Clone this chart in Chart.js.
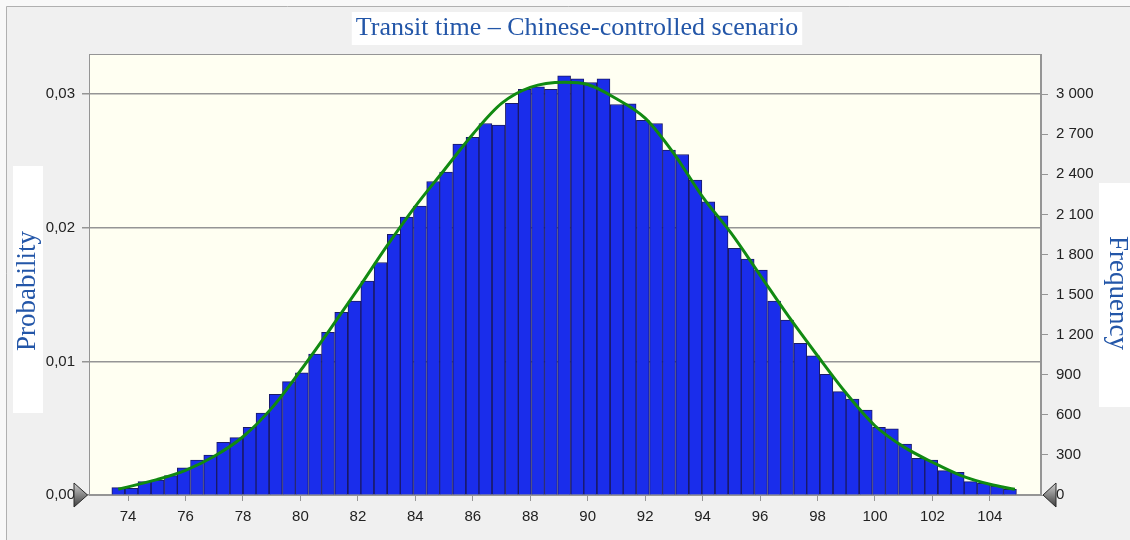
<!DOCTYPE html>
<html>
<head>
<meta charset="utf-8">
<script src="https://cdn.jsdelivr.net/npm/chart.js@4.4.1/dist/chart.umd.min.js"></script>
<style>
  html, body { margin: 0; padding: 0; background: #f8f8f8; }
  canvas { display: block; }
</style>
</head>
<body>
<canvas id="transitChart" width="1130" height="540"></canvas>
<script>
// histogram bins (bin centres, transit time) and their frequencies (100 000 iterations)
var binCenters = [
  73.66, 74.12, 74.57, 75.03, 75.49, 75.94, 76.40, 76.86, 77.31, 77.77,
  78.23, 78.68, 79.14, 79.60, 80.05, 80.51, 80.96, 81.42, 81.88, 82.33,
  82.79, 83.25, 83.70, 84.16, 84.62, 85.07, 85.53, 85.99, 86.44, 86.90,
  87.36, 87.81, 88.27, 88.72, 89.18, 89.64, 90.09, 90.55, 91.01, 91.46,
  91.92, 92.38, 92.83, 93.29, 93.75, 94.20, 94.66, 95.12, 95.57, 96.03,
  96.49, 96.94, 97.40, 97.85, 98.31, 98.77, 99.22, 99.68, 100.14, 100.59,
  101.05, 101.51, 101.96, 102.42, 102.88, 103.33, 103.79, 104.25, 104.70
];
var frequency = [
  55, 50, 100, 112, 145, 204, 262, 299, 394, 429,
  506, 613, 753, 848, 915, 1055, 1217, 1367, 1451, 1601,
  1740, 1950, 2080, 2162, 2346, 2416, 2625, 2676, 2780, 2768,
  2930, 3035, 3054, 3035, 3137, 3114, 3087, 3114, 2922, 2927,
  2803, 2780, 2581, 2548, 2356, 2194, 2089, 1845, 1765, 1683,
  1451, 1309, 1135, 1042, 903, 773, 718, 636, 506, 496,
  381, 274, 262, 182, 170, 100, 87, 67, 43
];

// fitted curve (x, frequency)
var curveX = [73.66, 75, 76, 77, 78, 79, 80, 81, 82, 83, 84, 85, 86, 87, 88, 89.2,
  90, 91, 92, 93, 94, 95, 96, 97, 98, 99, 100, 101, 102, 103, 104, 104.87];
var curveY = [43, 115, 185, 290, 436, 650, 930, 1230, 1540, 1860, 2160, 2430, 2700, 2930, 3050, 3088,
  3072, 2965, 2820, 2555, 2231, 1957, 1646, 1334, 1042, 761, 518, 360, 245, 145, 80, 43];

var xTicks = [74, 76, 78, 80, 82, 84, 86, 88, 90, 92, 94, 96, 98, 100, 102, 104];
var probTicks = [0, 0.01, 0.02, 0.03];
var freqTicks = [0, 300, 600, 900, 1200, 1500, 1800, 2100, 2400, 2700, 3000];

var titleText = "Transit time \u2013 Chinese-controlled scenario";
var leftTitle = "Probability";
var rightTitle = "Frequency";

var blueText = "#2356a8";
var gridGray = "#959595";
var tickFont = { family: "'Liberation Sans', Arial, sans-serif", size: 15 };

function setTicks(list) {
  return function (scale) {
    scale.ticks = list.map(function (v) { return { value: v }; });
  };
}

function drawTriangle(ctx, tipX, baseX, y) {
  var g = ctx.createLinearGradient(0, y - 12, 0, y + 12);
  g.addColorStop(0, "#d0d0d0");
  g.addColorStop(1, "#3c3c3c");
  ctx.beginPath();
  ctx.moveTo(baseX, y - 12);
  ctx.lineTo(tipX, y);
  ctx.lineTo(baseX, y + 12);
  ctx.closePath();
  ctx.fillStyle = g;
  ctx.fill();
  ctx.strokeStyle = "#2a2a2a";
  ctx.lineWidth = 1;
  ctx.stroke();
}

var decor = {
  id: "decor",
  beforeDraw: function (chart) {
    var ctx = chart.ctx, a = chart.chartArea;
    ctx.save();
    ctx.fillStyle = "#f8f8f8";
    ctx.fillRect(0, 0, chart.width, chart.height);
    ctx.fillStyle = "#f0f0f0";
    ctx.fillRect(6, 6, chart.width - 6, chart.height - 6);
    ctx.strokeStyle = "#b0b0b0";
    ctx.lineWidth = 1;
    ctx.beginPath();
    ctx.moveTo(6.5, chart.height);
    ctx.lineTo(6.5, 6.5);
    ctx.lineTo(chart.width, 6.5);
    ctx.stroke();
    ctx.fillStyle = "#fffff2";
    ctx.fillRect(a.left, a.top, a.right - a.left, a.bottom - a.top);
    ctx.restore();
  },
  afterDraw: function (chart) {
    var ctx = chart.ctx, a = chart.chartArea;
    ctx.save();
    // plot frame
    ctx.strokeStyle = gridGray;
    ctx.lineWidth = 1;
    ctx.strokeRect(a.left + 0.5, a.top + 0.5, a.right - a.left - 1, a.bottom - a.top);

    // title in a white box
    ctx.font = "26px 'Liberation Serif', 'Times New Roman', serif";
    var tw = ctx.measureText(titleText).width;
    var cx = 577;
    ctx.fillStyle = "#ffffff";
    ctx.fillRect(cx - tw / 2 - 4, 12, tw + 8, 33);
    ctx.fillStyle = blueText;
    ctx.textAlign = "center";
    ctx.textBaseline = "middle";
    ctx.fillText(titleText, cx, 28);

    // left axis title
    ctx.fillStyle = "#ffffff";
    ctx.fillRect(13, 166, 30, 247);
    ctx.save();
    ctx.translate(28, 291);
    ctx.rotate(-Math.PI / 2);
    ctx.fillStyle = blueText;
    ctx.font = "27px 'Liberation Serif', 'Times New Roman', serif";
    ctx.fillText(leftTitle, 0, 0);
    ctx.restore();

    // right axis title
    ctx.fillStyle = "#ffffff";
    ctx.fillRect(1099, 183, 31, 224);
    ctx.save();
    ctx.translate(1117, 293);
    ctx.rotate(Math.PI / 2);
    ctx.fillStyle = blueText;
    ctx.font = "27px 'Liberation Serif', 'Times New Roman', serif";
    ctx.fillText(rightTitle, 0, 0);
    ctx.restore();

    // slider markers at the zero line
    drawTriangle(ctx, a.left - 1.5, a.left - 15, a.bottom);
    drawTriangle(ctx, a.right + 2, a.right + 15, a.bottom);
    ctx.restore();
  }
};

document.addEventListener("DOMContentLoaded", function () {
  var ctx = document.getElementById("transitChart").getContext("2d");

  var bars = binCenters.map(function (x, i) {
    return { x: x, y: frequency[i] };
  });
  var curve = curveX.map(function (x, i) {
    return { x: x, y: curveY[i] };
  });

  new Chart(ctx, {
    type: "bar",
    data: {
      datasets: [
        {
          type: "line",
          data: curve,
          yAxisID: "yF",
          borderColor: "#118a11",
          borderWidth: 3,
          pointRadius: 0,
          cubicInterpolationMode: "monotone",
          fill: false,
          order: 0,
        },
        {
          data: bars,
          yAxisID: "yF",
          backgroundColor: "#1a2deb",
          borderColor: "#1a1a66",
          borderWidth: 1,
          barPercentage: 1,
          categoryPercentage: 1,
          order: 1,
        },
      ],
    },
    options: {
      responsive: false,
      animation: false,
      devicePixelRatio: 1,
      layout: { padding: { left: 29, right: 29, top: 54, bottom: 0 } },
      plugins: {
        legend: { display: false },
        tooltip: { enabled: false },
        title: { display: false },
      },
      scales: {
        x: {
          type: "linear",
          min: 72.64,
          max: 105.78,
          offset: false,
          afterBuildTicks: setTicks(xTicks),
          afterFit: function (s) { s.height = 45; },
          grid: { drawOnChartArea: false, offset: false, tickLength: 6, color: gridGray },
          border: { color: gridGray },
          ticks: {
            padding: 7,
            color: "#222",
            font: tickFont,
            maxRotation: 0,
            callback: function (v) { return String(v); },
          },
        },
        yP: {
          position: "left",
          min: 0,
          max: 0.033,
          afterBuildTicks: setTicks(probTicks),
          afterFit: function (s) { s.width = 60; },
          grid: { color: gridGray, lineWidth: 1.5, tickLength: 7 },
          border: { color: gridGray },
          ticks: {
            padding: 7,
            color: "#222",
            font: tickFont,
            callback: function (v) { return v.toFixed(2).replace(".", ","); },
          },
        },
        yF: {
          position: "right",
          min: 0,
          max: 3300,
          afterBuildTicks: setTicks(freqTicks),
          afterFit: function (s) { s.width = 60; },
          grid: { drawOnChartArea: false, color: gridGray, tickLength: 7 },
          border: { color: gridGray },
          ticks: {
            padding: 8,
            color: "#222",
            font: tickFont,
            callback: function (v) { return String(v).replace(/\B(?=(\d{3})+(?!\d))/g, " "); },
          },
        },
      },
    },
    plugins: [decor],
  });
});
</script>
</body>
</html>
